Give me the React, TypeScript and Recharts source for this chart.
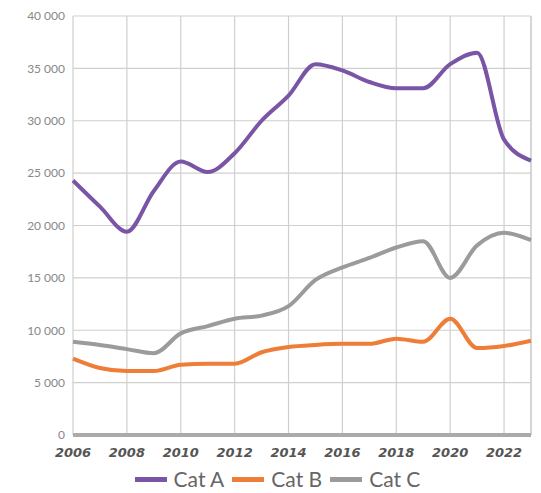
import { LineChart, Line, XAxis, YAxis, CartesianGrid, Legend, ReferenceLine } from "recharts";

const years = [2006, 2007, 2008, 2009, 2010, 2011, 2012, 2013, 2014, 2015, 2016, 2017, 2018, 2019, 2020, 2021, 2022, 2023];
const catA = [24300, 21800, 19400, 23300, 26100, 25100, 26900, 30000, 32400, 35400, 34800, 33700, 33100, 33100, 35400, 36500, 28200, 26200];
const catB = [7300, 6400, 6100, 6100, 6700, 6800, 6800, 7900, 8400, 8600, 8700, 8700, 9200, 8900, 11100, 8300, 8500, 9000];
const catC = [8900, 8600, 8200, 7800, 9700, 10400, 11100, 11400, 12300, 14800, 16000, 16900, 17900, 18500, 15000, 18100, 19300, 18600];
const xTicks = [2006, 2008, 2010, 2012, 2014, 2016, 2018, 2020, 2022];
const yTicks = [0, 5000, 10000, 15000, 20000, 25000, 30000, 35000, 40000];

const series = [
  { key: "Cat A", color: "#7a55a6" },
  { key: "Cat B", color: "#ee7d38" },
  { key: "Cat C", color: "#9b9b9b" },
];

const data = years.map((y, i) => ({ year: y, "Cat A": catA[i], "Cat B": catB[i], "Cat C": catC[i] }));

const fmt = (v: number) => (v === 0 ? "0" : `${Math.floor(v / 1000)} ${String(v % 1000).padStart(3, "0")}`);

function LegendRow() {
  return (
    <div style={{ display: "flex", justifyContent: "center", gap: 8, paddingLeft: 24, fontFamily: "Lato, sans-serif", fontSize: 21, lineHeight: "24px", color: "#666" }}>
      {series.map((s) => (
        <div key={s.key} style={{ display: "flex", alignItems: "center", gap: 7 }}>
          <span style={{ display: "inline-block", width: 32, height: 5, background: s.color }} />
          <span>{s.key}</span>
        </div>
      ))}
    </div>
  );
}

export default function App() {
  return (
    <div style={{ position: "absolute", left: 0, top: 0, background: "#fff" }}>
      <LineChart width={541} height={493} data={data} margin={{ top: 16, right: 10, left: 0, bottom: 2 }}>
        <CartesianGrid stroke="#cfcfcf" strokeWidth={1.2} />
        <ReferenceLine x={2023} stroke="#cfcfcf" strokeWidth={1.2} />
        <XAxis
          dataKey="year"
          type="number"
          domain={[2006, 2023]}
          ticks={xTicks}
          interval={0}
          axisLine={{ stroke: "#aaaaaa", strokeWidth: 4 }}
          tickLine={false}
          height={28}
          dy={5}
          tick={{ fontSize: 13, fill: "#555", fontStyle: "italic", fontWeight: 700, fontFamily: "'DejaVu Sans', sans-serif" }}
        />
        <YAxis
          domain={[0, 40000]}
          ticks={yTicks}
          tickFormatter={fmt}
          axisLine={false}
          tickLine={false}
          width={73}
          tick={{ fontSize: 12, fill: "#888", fontFamily: "Lato, sans-serif" }}
        />
        <Legend verticalAlign="bottom" height={28} wrapperStyle={{ bottom: -2 }} content={() => <LegendRow />} />
        {series.map((s) => (
          <Line
            key={s.key}
            type="monotone"
            dataKey={s.key}
            stroke={s.color}
            strokeWidth={4}
            dot={false}
            isAnimationActive={false}
          />
        ))}
      </LineChart>
    </div>
  );
}
